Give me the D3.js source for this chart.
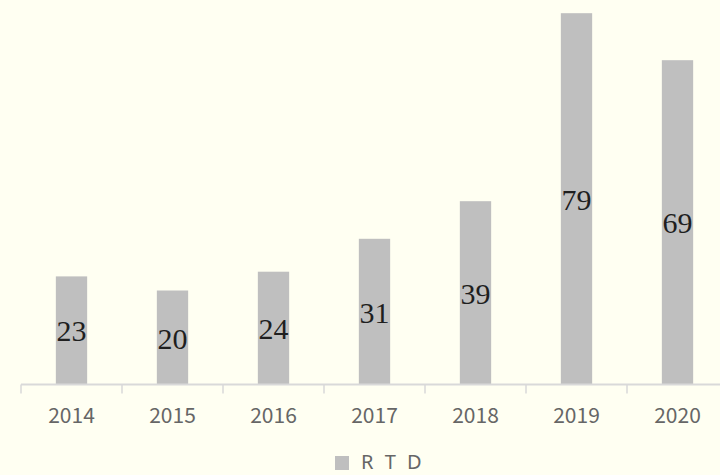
<!DOCTYPE html>
<html>
<head>
<meta charset="utf-8">
<script src="https://cdn.jsdelivr.net/npm/d3@7"></script>
<style>
html,body{margin:0;padding:0;background:#fffff2;}
svg{display:block;}
</style>
</head>
<body>
<svg id="chart" width="720" height="475"></svg>
<script>
const years = ["2014","2015","2016","2017","2018","2019","2020"];
const values = [23, 20, 24, 31, 39, 79, 69];
const seriesName = "R T D";

const svg = d3.select("#chart");
svg.append("rect").attr("width",720).attr("height",475).attr("fill","#fffff2");

const x = d3.scaleBand().domain(years).range([21, 728]).paddingInner(0.69).paddingOuter(0.345);
const y = d3.scaleLinear().domain([0, 80]).range([384.5, 8.5]);

const g = svg.append("g");

// bars
g.selectAll("rect.bar").data(values).join("rect")
  .attr("class","bar")
  .attr("x",(d,i)=>x(years[i]))
  .attr("width",x.bandwidth())
  .attr("y",d=>y(d))
  .attr("height",d=>y(0)-y(d))
  .attr("fill","#bfbfbf");

// axis
const axis = d3.axisBottom(x).tickSize(0).tickPadding(24);
const ax = svg.append("g").attr("transform",`translate(0,${y(0)})`).call(axis);
ax.select(".domain").attr("stroke","#d9d9d9").attr("stroke-width",2).attr("d","M21,0H728");
ax.selectAll(".tick text")
  .attr("font-family","'Noto Sans CJK JP','Noto Sans',sans-serif")
  .attr("font-size",21).attr("fill","#666666");
// category boundary ticks
const step = x.step();
const bounds = d3.range(years.length+1).map(i=>21+i*step);
ax.selectAll("line.bt").data(bounds).join("line").attr("class","bt")
  .attr("x1",d=>d).attr("x2",d=>d).attr("y1",0).attr("y2",9)
  .attr("stroke","#d9d9d9").attr("stroke-width",1.5);

// value labels
g.selectAll("text.lbl").data(values).join("text")
  .attr("class","lbl")
  .attr("x",(d,i)=>x(years[i])+x.bandwidth()/2)
  .attr("y",d=>(y(d)+y(0))/2+11)
  .attr("text-anchor","middle")
  .attr("font-family","'Liberation Serif','Times New Roman',serif")
  .attr("font-size",30)
  .attr("fill","#1f1f1f")
  .text(d=>d);

// legend
const lg = svg.append("g");
lg.append("rect").attr("x",335).attr("y",456).attr("width",14).attr("height",14).attr("fill","#bfbfbf");
lg.append("text").attr("x",361).attr("y",469)
  .attr("font-family","'Noto Sans','Noto Sans CJK JP',sans-serif")
  .attr("font-size",20).attr("fill","#666666").attr("letter-spacing",3)
  .text(seriesName);
</script>
</body>
</html>
